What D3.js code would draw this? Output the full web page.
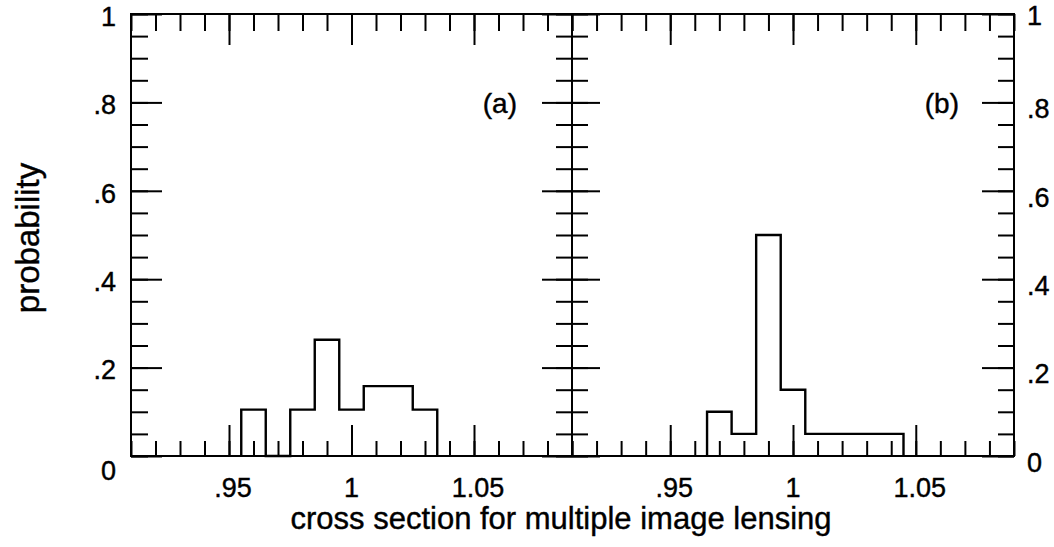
<!DOCTYPE html>
<html>
<head>
<meta charset="utf-8">
<script src="https://cdn.jsdelivr.net/npm/d3@7"></script>
<style>
  html, body { margin: 0; padding: 0; background: #fff; }
  svg { display: block; }
  text { font-family: "Liberation Sans", Arial, Helvetica, sans-serif; fill: #000; stroke: #000; stroke-width: 0.4px; }
</style>
</head>
<body>
<svg id="chart" width="1054" height="547"></svg>
<script>
// Histogram bins (bin centres, width 0.01) and probabilities for the two panels
const binWidth = 0.01;
const binsA = [0.96, 0.97, 0.98, 0.99, 1.00, 1.01, 1.02, 1.03];
const probA = [0.105, 0, 0.105, 0.263, 0.105, 0.158, 0.158, 0.105];
const binsB = [0.97, 0.98, 0.99, 1.00, 1.01, 1.02, 1.03, 1.04];
const probB = [0.10, 0.05, 0.50, 0.15, 0.05, 0.05, 0.05, 0.05];

// Axis ticks and labels
const xDomain = [0.91, 1.09];
const xMajorTicks = [0.95, 1.00, 1.05];
const xTickLabels = [".95", "1", "1.05"];
const yMajorTicks = [0, 0.2, 0.4, 0.6, 0.8, 1];
const yTickLabels = ["0", ".2", ".4", ".6", ".8", "1"];
const panelLabels = ["(a)", "(b)"];
const xTitle = "cross section for multiple image lensing";
const yTitle = "probability";

const xMinorTicks = d3.range(91, 110).map(d => d / 100);
const yMinorTicks = d3.range(0, 21).map(d => d / 20);

const svg = d3.select("#chart");
const frameTop = 14, frameBottom = 456, frameLeft = 131, frameMid = 572, frameRight = 1014;

const y = d3.scaleLinear().domain([0, 1]).range([frameBottom, frameTop]);
const xA = d3.scaleLinear().domain(xDomain).range([frameLeft, frameMid]);
const xB = d3.scaleLinear().domain(xDomain).range([frameMid, frameRight]);

function styleAxis(g) {
  g.select(".domain").remove();
  g.selectAll(".tick line").attr("stroke", "#000").attr("stroke-width", 2);
}

function tickGroup(axis, tx, ty) {
  svg.append("g")
    .attr("transform", `translate(${tx},${ty})`)
    .call(axis.tickFormat("").tickSizeOuter(0))
    .call(styleAxis);
}

// x ticks on top and bottom edges of each panel
[xA, xB].forEach(x => {
  tickGroup(d3.axisBottom(x).tickValues(xMinorTicks).tickSize(-15), 0, frameBottom);
  tickGroup(d3.axisBottom(x).tickValues(xMajorTicks).tickSize(-31), 0, frameBottom);
  tickGroup(d3.axisTop(x).tickValues(xMinorTicks).tickSize(-17), 0, frameTop);
  tickGroup(d3.axisTop(x).tickValues(xMajorTicks).tickSize(-31), 0, frameTop);
});

// y ticks: left edge, shared middle edge (both sides), right edge
tickGroup(d3.axisLeft(y).tickValues(yMinorTicks).tickSize(-17), frameLeft, 0);
tickGroup(d3.axisLeft(y).tickValues(yMajorTicks).tickSize(-31), frameLeft, 0);
tickGroup(d3.axisLeft(y).tickValues(yMinorTicks).tickSize(16), frameMid, 0);
tickGroup(d3.axisRight(y).tickValues(yMinorTicks).tickSize(16), frameMid, 0);
tickGroup(d3.axisLeft(y).tickValues(yMajorTicks).tickSize(30), frameMid, 0);
tickGroup(d3.axisRight(y).tickValues(yMajorTicks).tickSize(28), frameMid, 0);
tickGroup(d3.axisRight(y).tickValues(yMinorTicks).tickSize(-16), frameRight, 0);
tickGroup(d3.axisRight(y).tickValues(yMajorTicks).tickSize(-32), frameRight, 0);

// Frame of both panels
svg.append("rect")
  .attr("x", frameLeft).attr("y", frameTop)
  .attr("width", frameRight - frameLeft).attr("height", frameBottom - frameTop)
  .attr("fill", "none").attr("stroke", "#000").attr("stroke-width", 2);
svg.append("line")
  .attr("x1", frameMid).attr("x2", frameMid).attr("y1", frameTop).attr("y2", frameBottom)
  .attr("stroke", "#000").attr("stroke-width", 2);

// Step outlines of the histograms
function histPath(x, bins, probs) {
  const pts = [[bins[0] - binWidth / 2, 0]];
  bins.forEach((b, i) => pts.push([b - binWidth / 2, probs[i]]));
  pts.push([bins[bins.length - 1] + binWidth / 2, 0]);
  const line = d3.line()
    .x(d => x(d[0]))
    .y(d => y(d[1]))
    .curve(d3.curveStepAfter);
  svg.append("path")
    .attr("d", line(pts))
    .attr("fill", "none")
    .attr("stroke", "#000")
    .attr("stroke-width", 2.4)
    .attr("stroke-linejoin", "miter");
}
histPath(xA, binsA, probA);
histPath(xB, binsB, probB);

// x tick labels
[xA, xB].forEach(x => {
  svg.append("g").selectAll("text")
    .data(xMajorTicks)
    .join("text")
    .attr("x", (d, i) => x(d) + (i === 1 ? 0 : 4))
    .attr("y", 497)
    .attr("text-anchor", "middle")
    .attr("font-size", 27)
    .text((d, i) => xTickLabels[i]);
});

// y tick labels, left side
svg.append("g").selectAll("text")
  .data(yMajorTicks)
  .join("text")
  .attr("x", 116)
  .attr("y", d => y(d) + (d === 0 ? 14 : 2))
  .attr("dy", "0.36em")
  .attr("text-anchor", "end")
  .attr("font-size", 27)
  .text((d, i) => yTickLabels[i]);

// y tick labels, right side
svg.append("g").selectAll("text")
  .data(yMajorTicks)
  .join("text")
  .attr("x", 1027)
  .attr("y", d => y(d) + (d === 1 ? 1 : 6))
  .attr("dy", "0.36em")
  .attr("text-anchor", "start")
  .attr("font-size", 27)
  .text((d, i) => yTickLabels[i]);

// Panel labels
[xA, xB].forEach((x, i) => {
  svg.append("text")
    .attr("x", x(1.09) - 55)
    .attr("y", y(0.8) + 11)
    .attr("text-anchor", "end")
    .attr("font-size", 28)
    .text(panelLabels[i]);
});

// Axis titles
svg.append("text")
  .attr("x", 561)
  .attr("y", 529)
  .attr("text-anchor", "middle")
  .attr("font-size", 31)
  .text(xTitle);

svg.append("text")
  .attr("transform", `translate(39,238) rotate(-90)`)
  .attr("text-anchor", "middle")
  .attr("font-size", 33)
  .text(yTitle);
</script>
</body>
</html>
